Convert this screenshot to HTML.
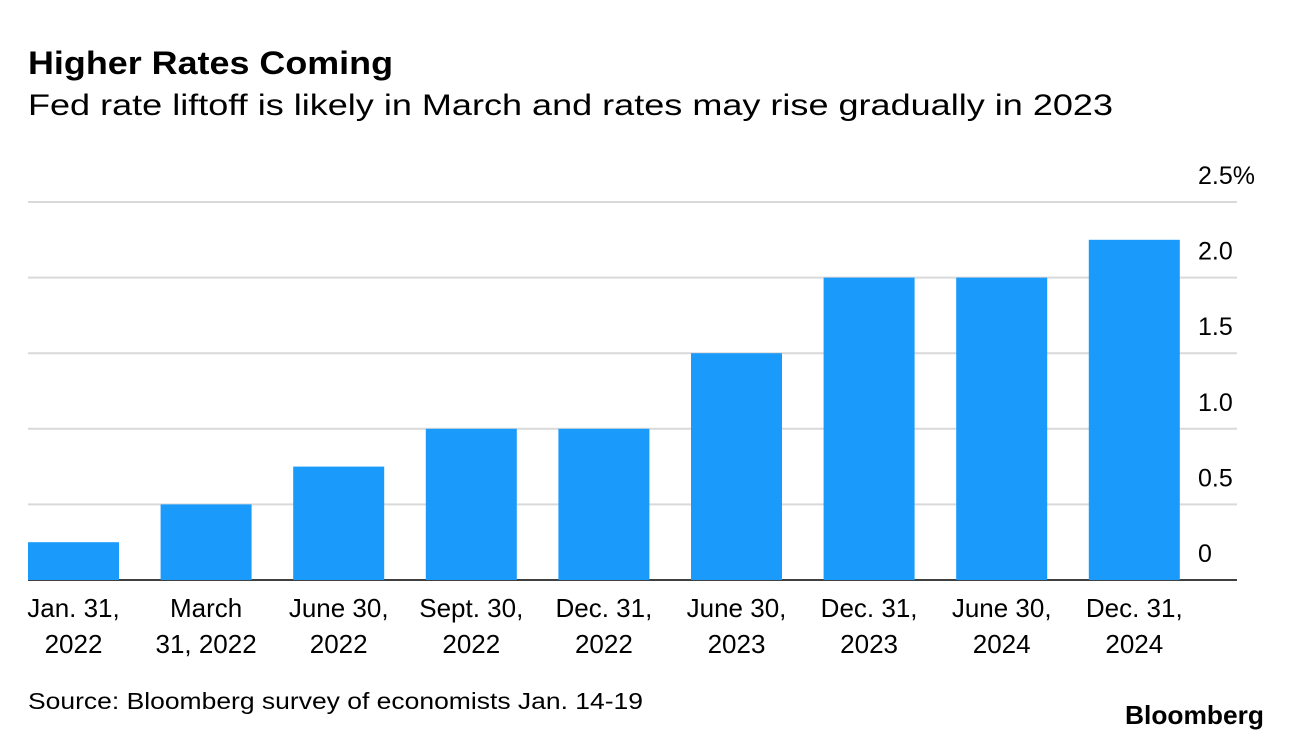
<!DOCTYPE html>
<html><head><meta charset="utf-8"><style>
body{margin:0;background:#fff;width:1292px;height:740px;overflow:hidden;font-family:"Liberation Sans",sans-serif;color:#000}
</style></head><body>
<svg width="1292" height="740" style="position:absolute;left:0;top:0">
<text x="28" y="74" font-size="32" font-weight="bold" textLength="365" lengthAdjust="spacingAndGlyphs">Higher Rates Coming</text>
<text x="28" y="115" font-size="30" textLength="1085" lengthAdjust="spacingAndGlyphs">Fed rate liftoff is likely in March and rates may rise gradually in 2023</text>
<g id="grid"></g><g id="bars"></g><g id="xlab"></g><g id="ylab"></g>
<text x="28" y="709" font-size="23" textLength="615" lengthAdjust="spacingAndGlyphs">Source: Bloomberg survey of economists Jan. 14-19</text>
<text x="1125" y="724" font-size="26" font-weight="bold" textLength="139" lengthAdjust="spacingAndGlyphs">Bloomberg</text>
</svg>
<script>
const categories1=["Jan. 31,","March","June 30,","Sept. 30,","Dec. 31,","June 30,","Dec. 31,","June 30,","Dec. 31,"];
const categories2=["2022","31, 2022","2022","2022","2022","2023","2023","2024","2024"];
const values=[0.25,0.5,0.75,1.0,1.0,1.5,2.0,2.0,2.25];
const ticks=[0,0.5,1.0,1.5,2.0,2.5];
const tickLabels=["0","0.5","1.0","1.5","2.0","2.5%"];
const NS="http://www.w3.org/2000/svg";
const y=v=>580-v*151.2;
const x=i=>28+i*132.6;
const bw=91;
function mk(t,a,p){const e=document.createElementNS(NS,t);for(const k in a)e.setAttribute(k,a[k]);p.appendChild(e);return e;}
const g=document.getElementById('grid'),b=document.getElementById('bars'),xl=document.getElementById('xlab'),yl=document.getElementById('ylab');
ticks.forEach((t,i)=>{
 const l=mk('line',{x1:28,x2:1237,y1:y(t),y2:y(t),stroke:t===0?'#000':'#d9d9d9','stroke-width':t===0?1.5:2},g);
 
 
 const tx=mk('text',{x:1198,y:y(t)-18,'font-size':25},yl);
 tx.textContent=tickLabels[i];
 
 
});
values.forEach((v,i)=>{
 const r=mk('rect',{x:x(i),y:y(v),width:bw,height:580-y(v),fill:'#1a9bfc'},b);
 
 
 const cx=x(i)+bw/2;
 const t1=mk('text',{x:cx,y:617,'font-size':26,'text-anchor':'middle'},xl);
 t1.textContent=categories1[i];
 
 
 const t2=mk('text',{x:cx,y:653,'font-size':26,'text-anchor':'middle'},xl);
 t2.textContent=categories2[i];
 
 
});
</script>
</body></html>
